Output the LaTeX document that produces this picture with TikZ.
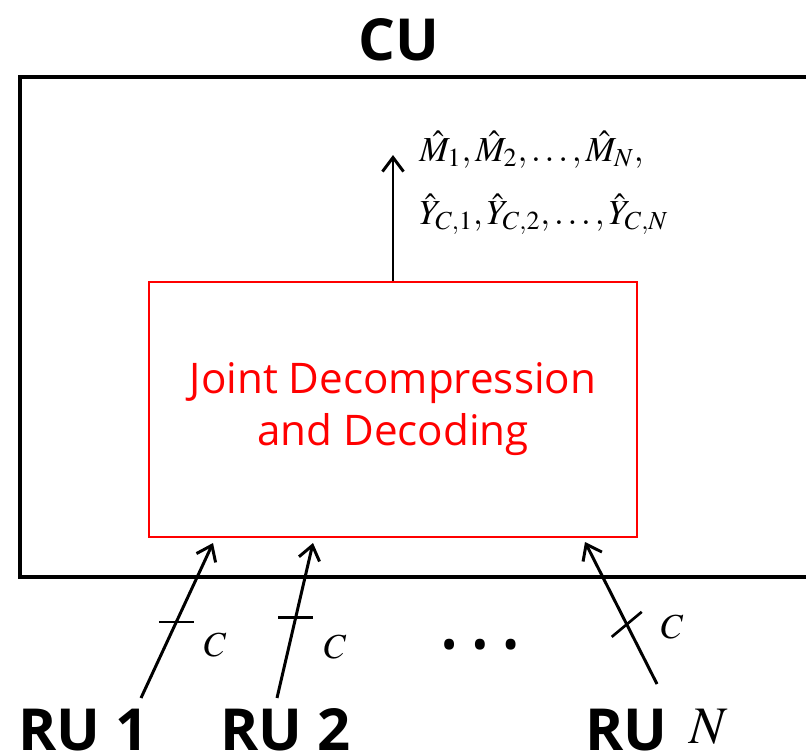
\documentclass[tikz,border=0pt]{standalone}
\usepackage{mathptmx}
\usepackage{fontspec}
\setmainfont{Liberation Serif}
\setsansfont{Open Sans}
\usetikzlibrary{arrows.meta, positioning, calc}
\usepackage{xcolor}
\definecolor{decred}{RGB}{255, 0, 0}

\begin{document}
\begin{tikzpicture}[x=0.02cm, y=-0.02cm,
  big/.style={font=\sffamily\bfseries\fontsize{33}{36}\selectfont, inner sep=0pt},
  mathtxt/.style={font=\fontsize{20}{24}\selectfont, inner sep=0pt},
  link/.style={line width=1.7pt, -{Straight Barb[length=8pt, width=12pt]}},
  tick/.style={line width=1.5pt}]
\useasboundingbox (0,0) rectangle (806,751);
\clip (0,0) rectangle (806,751);
% CU box
\draw[line width=2.8pt] (850,77) -- (20,77) -- (20,577) -- (850,577);
\node[big] (cu) at (399,40) {CU};
\node[draw=decred, line width=1.4pt, minimum width=9.76cm, minimum height=5.1cm,
  text=decred, align=center, font=\sffamily\fontsize{24}{29.5}\selectfont] (dec) at (393,409.5)
  {Joint Decompression\\and Decoding};
% output
\coordinate (top) at (393,155);
\draw[link] (dec.north) -- (top);
\node[mathtxt, anchor=base west] (est1) at (419,161)
  {$\hat{M}_1, \hat{M}_2, \ldots, \hat{M}_N,$};
\node[mathtxt, anchor=base west] (est2) at (419,224)
  {$\hat{Y}_{C,1}, \hat{Y}_{C,2}, \ldots, \hat{Y}_{C,N}$};
% RUs
\node[big, anchor=base west] (ru1) at (18,750) {RU 1};
\node[big, anchor=base west] (ru2) at (220,750) {RU 2};
\node[big, anchor=base west] (run) at (585,750) {RU};
\node[mathtxt, font=\fontsize{30}{32}\selectfont, anchor=base west] (nidx) at (689,743) {$N$};
\coordinate (s1) at (141,698);
\coordinate (e1) at (213,543);
\coordinate (s2) at (277,698);
\coordinate (e2) at (313,543);
\coordinate (sn) at (657,684);
\coordinate (en) at (585,542);
\draw[link] (s1) -- (e1);
\draw[link] (s2) -- (e2);
\draw[link] (sn) -- (en);
\draw[tick] ($(s1)!0.49!(e1)$) +(-17.5,0) -- +(17.5,0);
\draw[tick] ($(s2)!0.52!(e2)$) +(-17.5,0) -- +(17.5,0);
\draw[tick] ($(sn)!0.42!(en)$) +(-15,12.5) -- +(15,-12.5);
\node[mathtxt] (c1) at (215,645) {$C$};
\node[mathtxt] (c2) at (335,647) {$C$};
\node[mathtxt] (cn) at (672,627) {$C$};
\node[font=\sffamily\bfseries\fontsize{20}{24}\selectfont] (dots) at (480,648)
  {•\hspace{10pt}•\hspace{10pt}•};
\end{tikzpicture}
\end{document}
